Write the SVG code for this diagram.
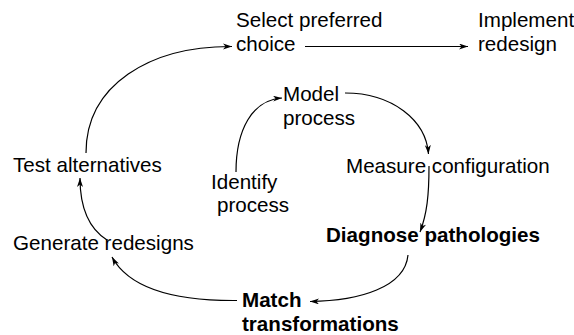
<svg xmlns="http://www.w3.org/2000/svg" width="574" height="335" viewBox="0 0 574 335">
<style>
text { font-family: "Liberation Sans", Arial, sans-serif; font-size: 20.6px; fill: #000; }
.b { font-weight: bold; }
.c { fill: none; stroke: #000; stroke-width: 1.2; marker-end: url(#ah); }
</style>
<defs>
<marker id="ah" markerUnits="userSpaceOnUse" markerWidth="10" markerHeight="8" refX="9" refY="3" orient="auto">
<path d="M0,0 L9,3 L0,6 L2.5,3 z" fill="#000"/>
</marker>
</defs>
<rect width="574" height="335" fill="#fff"/>
<g id="connectors">
<path class="c" d="M86,153 C86,85 150,46 232,46.5"/>
<path class="c" d="M305,46.5 L468,46.5"/>
<path class="c" d="M236,172 C236,130 252,100 282,98"/>
<path class="c" d="M345,93 C392,93 426,120 428.5,154"/>
<path class="c" d="M429,166 C429,195 427,214 420,232"/>
<path class="c" d="M408,255 C405,287 360,301 310,301.5"/>
<path class="c" d="M237,300.5 C180,301 130,290 112,257"/>
<path class="c" d="M107,240 C88,228 80,205 80,178"/>
</g>
<g id="select"><text x="236" y="27">Select preferred</text><text x="236" y="51">choice</text></g>
<g id="implement"><text x="478" y="27">Implement</text><text x="478" y="51">redesign</text></g>
<g id="model"><text x="283" y="101">Model</text><text x="283" y="125">process</text></g>
<g id="test"><text x="13" y="172">Test alternatives</text></g>
<g id="identify"><text x="211" y="189">Identify</text><text x="217" y="212">process</text></g>
<g id="measure"><text x="346" y="173">Measure configuration</text></g>
<g id="generate"><text x="13" y="250">Generate redesigns</text></g>
<g id="diagnose"><text class="b" x="326" y="242">Diagnose pathologies</text></g>
<g id="match"><text class="b" x="242" y="307">Match</text><text class="b" x="242" y="331">transformations</text></g>
</svg>
